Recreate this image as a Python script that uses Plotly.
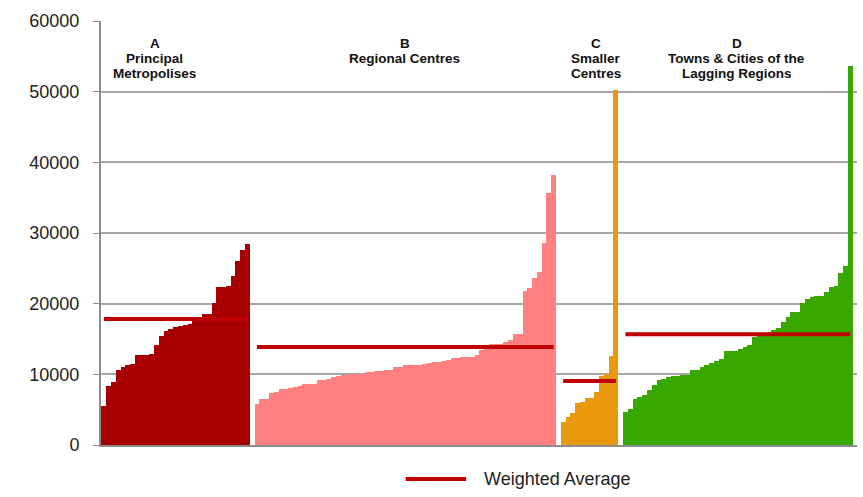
import plotly.graph_objects as go

# values, each group sorted ascending
group_names = ["A<br>Principal<br>Metropolises", "B<br>Regional Centres",
               "C<br>Smaller<br>Centres", "D<br>Towns & Cities of the<br>Lagging Regions"]

vals_a = [5560, 8390, 8960, 10610, 10990, 11320, 11460, 12700, 12740, 12760,
          12920, 14200, 15470, 16180, 16370, 16650, 16890, 17050, 17090, 17670,
          17710, 18520, 18560, 20140, 22290, 22330, 22500, 23910, 26080, 27590,
          28440]
vals_b = [5760, 6470, 6490, 7310, 7500, 7860, 7900, 8070, 8240, 8280,
          8600, 8630, 8660, 9130, 9170, 9380, 9620, 9810, 9890, 9920,
          10070, 10090, 10110, 10280, 10400, 10420, 10440, 10650, 10680, 10980,
          11000, 11330, 11350, 11370, 11390, 11400, 11560, 11730, 11760, 11890,
          12070, 12250, 12270, 12390, 12410, 12430, 12780, 13490, 13730, 14270,
          14290, 14310, 14570, 14810, 15690, 15720, 21790, 22220, 23630, 24480,
          28630, 35700, 38200]
vals_c = [3210, 3920, 4480, 5990, 6130, 6690, 6710, 7550, 9760, 10050, 12600, 50230]
vals_d = [4620, 5050, 6510, 6840, 7080, 7780, 8450, 9200, 9380, 9580,
          9700, 9740, 9880, 9920, 10590, 10630, 10990, 11320, 11560, 11890,
          12210, 13280, 13300, 13320, 13630, 13910, 14150, 15240, 15400, 15440,
          15990, 16270, 16600, 17450, 18110, 18840, 18880, 20140, 20620, 20900,
          21020, 21060, 21700, 22400, 22540, 24290, 25380, 53630]

weighted_avg = [17830, 13870, 9060, 15660]

colors = ["#A80000", "#FF8080", "#E8980A", "#38A800"]
avg_color = "#C00000"

fig = go.Figure()

start = 0
group_x = []
for vals, color in zip([vals_a, vals_b, vals_c, vals_d], colors):
    xs = list(range(start, start + len(vals)))
    group_x.append(xs)
    fig.add_trace(go.Bar(x=xs, y=vals, marker=dict(color=color, line=dict(width=0)),
                         showlegend=False, hoverinfo="y"))
    start += len(vals) + 1  # one empty category between groups

# weighted average lines
for xs, avg in zip(group_x, weighted_avg):
    fig.add_trace(go.Scatter(x=[xs[0], xs[-1]], y=[avg, avg], mode="lines",
                             line=dict(color=avg_color, width=4),
                             showlegend=False, hoverinfo="y"))

# group titles, one annotation per line so the spacing stays tight
title_x = [0.071, 0.402, 0.655, 0.841]
for name, tx in zip(group_names, title_x):
    for i, line in enumerate(name.split("<br>")):
        fig.add_annotation(text="<b>" + line + "</b>", x=tx, y=0.9458, xref="paper", yref="paper",
                           xanchor="center", yanchor="middle", yshift=-14.8 * i, showarrow=False,
                           font=dict(family="Liberation Sans, Arial", size=13.5, color="#111"))

# legend drawn by hand so the sample line matches
fig.add_shape(type="line", xref="paper", yref="paper", x0=0.403, x1=0.483, y0=-0.080, y1=-0.080,
              line=dict(color=avg_color, width=4))
fig.add_annotation(text="Weighted Average", x=0.504, y=-0.080, xref="paper", yref="paper",
                   xanchor="left", yanchor="middle", showarrow=False,
                   font=dict(family="Liberation Sans, Arial", size=18, color="#222"))

fig.update_layout(
    width=863, height=497,
    margin=dict(l=101, r=6, t=21, b=52),
    plot_bgcolor="white", paper_bgcolor="white",
    bargap=0, barmode="overlay",
    font=dict(family="Liberation Sans, Arial", size=18, color="#222"),
)
fig.update_xaxes(range=[-0.6, start - 1 + 0.4], showticklabels=False, showgrid=False,
                 showline=True, linecolor="#8C8C8C", linewidth=2, zeroline=False, ticks="")
fig.update_yaxes(range=[0, 60000], dtick=10000, tickformat="d", showgrid=True,
                 gridcolor="#A6A6A6", gridwidth=1.5, showline=True, linecolor="#8C8C8C",
                 linewidth=2, ticks="outside", ticklen=6, tickcolor="#8C8C8C",
                 zeroline=False, ticklabelstandoff=10, automargin=False)

fig.write_html("out.html", config={"displayModeBar": False},
               post_script="document.body.style.margin='0';")
